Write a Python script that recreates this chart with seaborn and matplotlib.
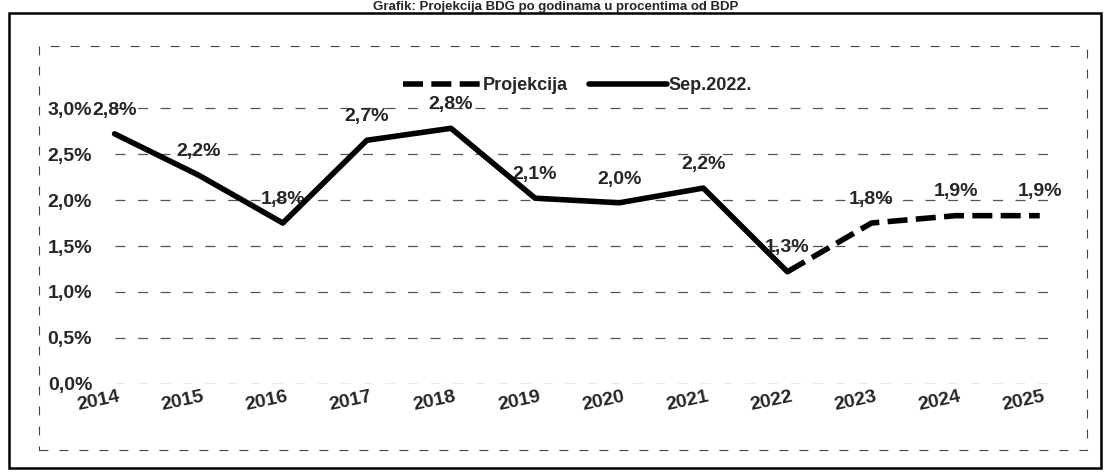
import matplotlib
matplotlib.use("Agg")
import matplotlib.pyplot as plt
import matplotlib.transforms as mtransforms
import seaborn as sns
import pandas as pd
from matplotlib.patches import Rectangle

# podaci procitani sa grafika
godine = [2014, 2015, 2016, 2017, 2018, 2019, 2020, 2021, 2022, 2023, 2024, 2025]
sep2022_godine = [2014, 2015, 2016, 2017, 2018, 2019, 2020, 2021, 2022]
sep2022 = [2.72, 2.27, 1.75, 2.65, 2.78, 2.02, 1.97, 2.13, 1.22]
projekcija_godine = [2022, 2023, 2024, 2025]
projekcija = [1.22, 1.75, 1.83, 1.83]
oznake = ["2,8%", "2,2%", "1,8%", "2,7%", "2,8%", "2,1%", "2,0%", "2,2%", "1,3%", "1,8%", "1,9%", "1,9%"]
y_oznake = ["0,0%", "0,5%", "1,0%", "1,5%", "2,0%", "2,5%", "3,0%"]
y_vrijednosti = [0.0, 0.5, 1.0, 1.5, 2.0, 2.5, 3.0]
naslov = "Grafik: Projekcija BDG po godinama u procentima od BDP"

sns.set_theme(style="white")
plt.rcParams["font.family"] = ["Liberation Sans", "DejaVu Sans"]

df_sep = pd.DataFrame({"godina": sep2022_godine, "vrijednost": sep2022})
df_proj = pd.DataFrame({"godina": projekcija_godine, "vrijednost": projekcija})

fig = plt.figure(figsize=(11.11, 4.74), dpi=100)
ax = fig.add_axes([0.088, 0.190, 0.863, 0.679])

# isprekidana mreza
ax.hlines(y_vrijednosti, 2014, 2025.1, color="#555555", lw=0.9, ls=(0, (8, 10)), zorder=0)

sns.lineplot(data=df_proj, x="godina", y="vrijednost", ax=ax, color="black",
             lw=4, label="Projekcija", zorder=3)
ax.lines[-1].set_dashes([3.6, 1.5])
sns.lineplot(data=df_sep, x="godina", y="vrijednost", ax=ax, color="black",
             lw=4, label="Sep.2022.", zorder=4)

# oznake vrijednosti
sve_vrijednosti = sep2022 + projekcija[1:]
for g, v, t in zip(godine, sve_vrijednosti, oznake):
    ax.annotate(t, (g, v), xytext=(0, 11), textcoords="offset points",
                ha="center", va="bottom", fontsize=14, fontweight="bold")

ax.set_xlim(2013.8, 2025.2)
ax.set_ylim(0, 3.5)
ax.set_yticks(y_vrijednosti)
ax.set_yticklabels(y_oznake, fontsize=14, fontweight="bold")
ax.set_xticks(godine)
ax.set_xticklabels([str(g) for g in godine], fontsize=14, fontweight="bold", rotation=12)
ax.tick_params(axis="y", pad=4, length=0)
ax.tick_params(axis="x", pad=3, length=0)
pomak = mtransforms.ScaledTranslation(-16 / 100, 0, fig.dpi_scale_trans)
for lab in ax.get_xticklabels():
    lab.set_transform(lab.get_transform() + pomak)
ax.set_xlabel("")
ax.set_ylabel("")
for s in ax.spines.values():
    s.set_visible(False)

ax.get_legend().remove()
h, l = ax.get_legend_handles_labels()
fig.legend(h, l, loc="center", bbox_to_anchor=(0.52, 0.82), ncol=2, frameon=False,
           handlelength=4.3, columnspacing=1.2, handletextpad=0.1,
           prop={"size": 13, "weight": "bold"})

# okviri
fig.patches.append(Rectangle((0.035, 0.05), 0.943, 0.852, transform=fig.transFigure,
                             fill=False, ec="#444444", lw=0.8, ls=(0, (8, 10))))
fig.patches.append(Rectangle((0.008, 0.013), 0.983, 0.96, transform=fig.transFigure,
                             fill=False, ec="black", lw=1.8))
fig.text(0.5, 0.997, naslov, ha="center", va="top", fontsize=9.5, fontweight="bold")

fig.savefig("out.png", dpi=100)
